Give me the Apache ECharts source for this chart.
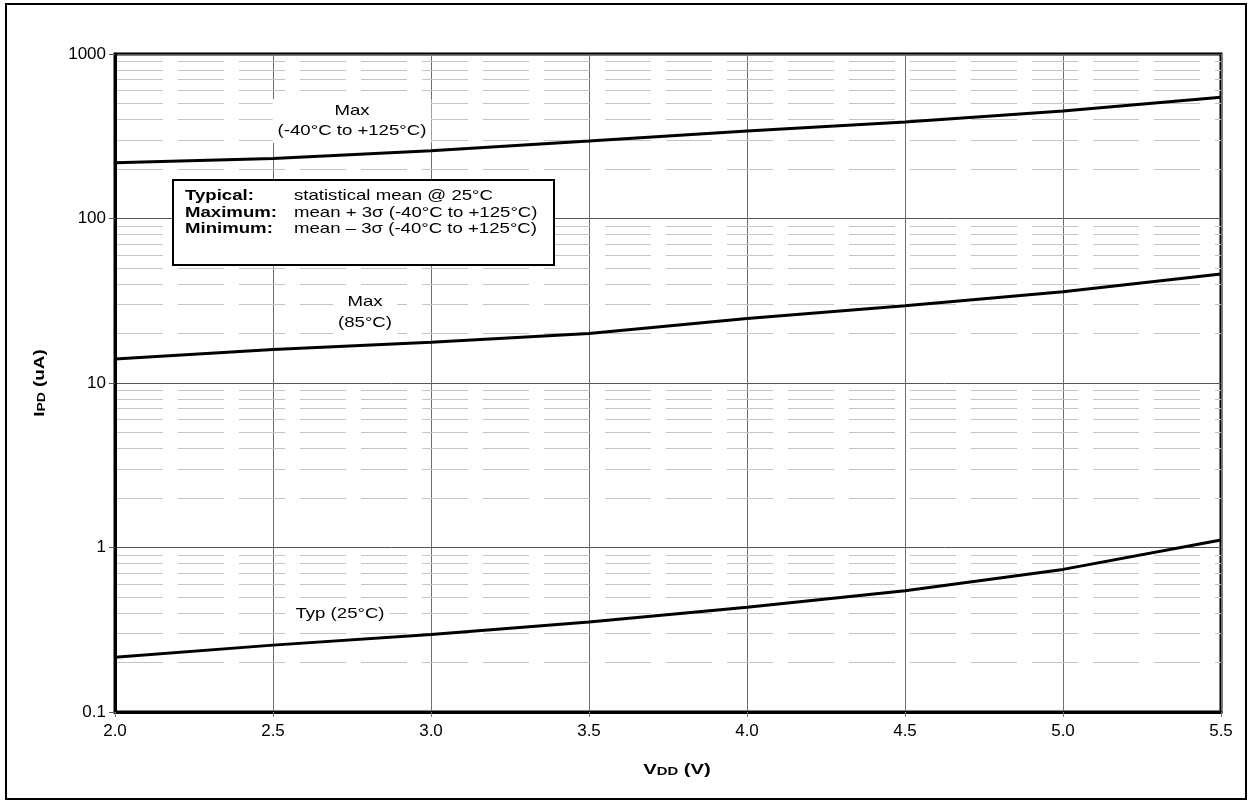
<!DOCTYPE html>
<html>
<head>
<meta charset="utf-8">
<title>IPD vs VDD</title>
<script src="https://cdn.jsdelivr.net/npm/echarts@6/dist/echarts.min.js"></script>
<style>
  html, body { margin: 0; padding: 0; background: #fff; }
  #chart { width: 1253px; height: 804px; }
</style>
</head>
<body>
<div id="chart"></div>
<script>
// VDD (V)
var vdd = [2.0, 2.5, 3.0, 3.5, 4.0, 4.5, 5.0, 5.5];
// IPD (uA)
var maxWide = [218, 232, 258, 296, 340, 386, 450, 546];   // Max (-40°C to +125°C)
var max85 = [14.0, 16.0, 17.7, 20.0, 24.7, 29.5, 35.9, 46];
var typ25 = [0.215, 0.255, 0.296, 0.352, 0.433, 0.546, 0.736, 1.11];
// dashed minor grid lines (2..9 of each decade)
var minorLines = [
  0.2, 0.3, 0.4, 0.5, 0.6, 0.7, 0.8, 0.9,
  2, 3, 4, 5, 6, 7, 8, 9,
  20, 30, 40, 50, 60, 70, 80, 90,
  200, 300, 400, 500, 600, 700, 800, 900
];

function pairs(ys) {
  return vdd.map(function (x, i) { return [x, ys[i]]; });
}

var font = 'Liberation Sans, Arial, sans-serif';
var chart = echarts.init(document.getElementById('chart'));

var curveStyle = { color: '#000', width: 3 };
// text in the reference is a bit wider than it is tall
var stretch = 1.24;

var nameRich = {
  a: { fontFamily: font, fontSize: 15, fontWeight: 'bold', color: '#000', verticalAlign: 'bottom' },
  b: { fontFamily: font, fontSize: 11, fontWeight: 'bold', color: '#000', verticalAlign: 'bottom' }
};

var option = {
  backgroundColor: '#fff',
  animation: false,
  textStyle: { fontFamily: font },
  grid: {
    left: 115, right: 32, top: 54, bottom: 92,
    show: true, borderColor: '#000', borderWidth: 3
  },
  xAxis: {
    type: 'value',
    min: 2, max: 5.5, interval: 0.5,
    axisLine: { lineStyle: { color: '#000', width: 3 } },
    axisTick: { show: true, length: 5, lineStyle: { color: '#777' } },
    axisLabel: {
      fontFamily: font, fontSize: 17, color: '#000', margin: 11,
      formatter: function (v) { return v.toFixed(1); }
    },
    splitLine: { show: true, lineStyle: { color: '#6e6e6e', width: 1 } }
  },
  yAxis: {
    type: 'log',
    logBase: 10,
    min: 0.1, max: 1000,
    axisLine: { show: true, lineStyle: { color: '#000', width: 3 } },
    axisTick: { show: true, length: 6, lineStyle: { color: '#555' } },
    axisLabel: {
      fontFamily: font, fontSize: 17, color: '#000', margin: 9,
      formatter: function (v) { return v < 1 ? v.toFixed(1) : String(Math.round(v)); }
    },
    splitLine: { show: true, lineStyle: { color: '#555', width: 1 } }
  },
  series: [
    {
      // minor grid only
      type: 'line',
      data: [],
      silent: true,
      z: 1,
      markLine: {
        silent: true,
        symbol: 'none',
        label: { show: false },
        animation: false,
        lineStyle: { color: '#c4c4c4', width: 1, type: [46, 15], dashOffset: -2 },
        data: minorLines.map(function (v) { return { yAxis: v }; })
      }
    },
    {
      name: 'Max (-40°C to +125°C)',
      type: 'line', data: pairs(maxWide), showSymbol: false, symbol: 'none',
      lineStyle: curveStyle, z: 5
    },
    {
      name: 'Max (85°C)',
      type: 'line', data: pairs(max85), showSymbol: false, symbol: 'none',
      lineStyle: curveStyle, z: 5
    },
    {
      name: 'Typ (25°C)',
      type: 'line', data: pairs(typ25), showSymbol: false, symbol: 'none',
      lineStyle: curveStyle, z: 5
    }
  ],
  graphic: [
    // outer frame
    {
      type: 'rect', z: 100, silent: true,
      shape: { x: 6, y: 4, width: 1240, height: 795 },
      style: { fill: 'none', stroke: '#000', lineWidth: 2 }
    },
    // axis names
    {
      type: 'text', z: 50, x: 677, y: 770, scaleX: 1.35,
      style: {
        text: '{a|V}{b|DD}{a| (V)}', rich: nameRich,
        align: 'center', verticalAlign: 'middle'
      }
    },
    {
      type: 'text', z: 50, x: 40, y: 383, rotation: Math.PI / 2, scaleX: 1.26,
      style: {
        text: '{a|I}{b|PD}{a| (uA)}', rich: nameRich,
        align: 'center', verticalAlign: 'middle'
      }
    },
    // curve labels
    {
      type: 'text', z: 50, x: 352, y: 121, scaleX: stretch,
      style: {
        text: 'Max\n(-40°C to +125°C)', font: '15px ' + font, fill: '#000',
        align: 'center', verticalAlign: 'middle', lineHeight: 20,
        backgroundColor: '#fff', padding: [2, 4]
      }
    },
    {
      type: 'text', z: 50, x: 365, y: 312, scaleX: stretch,
      style: {
        text: 'Max\n(85°C)', font: '15px ' + font, fill: '#000',
        align: 'center', verticalAlign: 'middle', lineHeight: 21,
        backgroundColor: '#fff', padding: [2, 4]
      }
    },
    {
      type: 'text', z: 50, x: 340, y: 614, scaleX: stretch,
      style: {
        text: 'Typ (25°C)', font: '15px ' + font, fill: '#000',
        align: 'center', verticalAlign: 'middle',
        backgroundColor: '#fff', padding: [1, 4]
      }
    },
    // definitions box
    {
      type: 'rect', z: 50,
      shape: { x: 173, y: 180, width: 381, height: 85 },
      style: { fill: '#fff', stroke: '#000', lineWidth: 2 }
    },
    {
      type: 'text', z: 51, x: 185, y: 188, scaleX: stretch,
      style: {
        text: 'Typical:\nMaximum:\nMinimum:', font: 'bold 15px ' + font,
        fill: '#000', lineHeight: 16.3
      }
    },
    {
      type: 'text', z: 51, x: 294, y: 188, scaleX: stretch,
      style: {
        text: 'statistical mean @ 25°C\nmean + 3σ (-40°C to +125°C)\nmean – 3σ (-40°C to +125°C)',
        font: '15px ' + font, fill: '#000', lineHeight: 16.3
      }
    }
  ]
};

chart.setOption(option);
</script>
</body>
</html>
